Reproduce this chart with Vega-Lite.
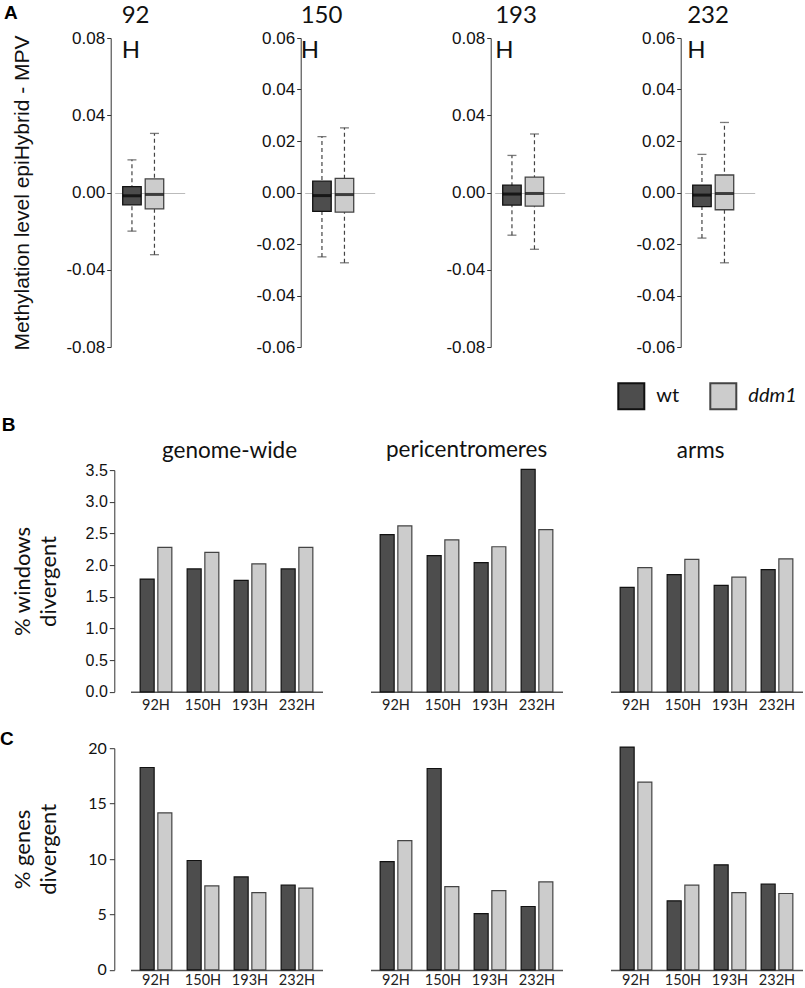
{
  "$schema": "https://vega.github.io/schema/vega-lite/v6.json",
  "autosize": {"type": "none"},
  "padding": {"left": 110.7, "top": 38, "right": 694.3, "bottom": 950},
  "background": "white",
  "datasets": {
    "box": [
      {"p": "92", "g": "wt", "lo": -0.0200, "q1": -0.0064, "med": -0.0017, "q3": 0.0030, "hi": 0.0169},
      {"p": "92", "g": "ddm1", "lo": -0.0322, "q1": -0.0085, "med": -0.0010, "q3": 0.0071, "hi": 0.0306},
      {"p": "150", "g": "wt", "lo": -0.0250, "q1": -0.0073, "med": -0.0012, "q3": 0.0044, "hi": 0.0217},
      {"p": "150", "g": "ddm1", "lo": -0.0273, "q1": -0.0076, "med": -0.0008, "q3": 0.0055, "hi": 0.0251},
      {"p": "193", "g": "wt", "lo": -0.0221, "q1": -0.0065, "med": -0.0008, "q3": 0.0038, "hi": 0.0192},
      {"p": "193", "g": "ddm1", "lo": -0.0294, "q1": -0.0071, "med": -0.0005, "q3": 0.0080, "hi": 0.0303},
      {"p": "232", "g": "wt", "lo": -0.0177, "q1": -0.0055, "med": -0.0010, "q3": 0.0029, "hi": 0.0148},
      {"p": "232", "g": "ddm1", "lo": -0.0273, "q1": -0.0067, "med": -0.0004, "q3": 0.0068, "hi": 0.0272}
    ],
    "bars": [
      {"row": "B", "region": "genome-wide", "h": "92H", "g": "wt", "v": 1.78},
      {"row": "B", "region": "genome-wide", "h": "92H", "g": "ddm1", "v": 2.28},
      {"row": "B", "region": "genome-wide", "h": "150H", "g": "wt", "v": 1.94},
      {"row": "B", "region": "genome-wide", "h": "150H", "g": "ddm1", "v": 2.20},
      {"row": "B", "region": "genome-wide", "h": "193H", "g": "wt", "v": 1.76},
      {"row": "B", "region": "genome-wide", "h": "193H", "g": "ddm1", "v": 2.02},
      {"row": "B", "region": "genome-wide", "h": "232H", "g": "wt", "v": 1.94},
      {"row": "B", "region": "genome-wide", "h": "232H", "g": "ddm1", "v": 2.28},
      {"row": "B", "region": "pericentromeres", "h": "92H", "g": "wt", "v": 2.48},
      {"row": "B", "region": "pericentromeres", "h": "92H", "g": "ddm1", "v": 2.62},
      {"row": "B", "region": "pericentromeres", "h": "150H", "g": "wt", "v": 2.15},
      {"row": "B", "region": "pericentromeres", "h": "150H", "g": "ddm1", "v": 2.40},
      {"row": "B", "region": "pericentromeres", "h": "193H", "g": "wt", "v": 2.04},
      {"row": "B", "region": "pericentromeres", "h": "193H", "g": "ddm1", "v": 2.29},
      {"row": "B", "region": "pericentromeres", "h": "232H", "g": "wt", "v": 3.51},
      {"row": "B", "region": "pericentromeres", "h": "232H", "g": "ddm1", "v": 2.56},
      {"row": "B", "region": "arms", "h": "92H", "g": "wt", "v": 1.65},
      {"row": "B", "region": "arms", "h": "92H", "g": "ddm1", "v": 1.96},
      {"row": "B", "region": "arms", "h": "150H", "g": "wt", "v": 1.85},
      {"row": "B", "region": "arms", "h": "150H", "g": "ddm1", "v": 2.09},
      {"row": "B", "region": "arms", "h": "193H", "g": "wt", "v": 1.68},
      {"row": "B", "region": "arms", "h": "193H", "g": "ddm1", "v": 1.81},
      {"row": "B", "region": "arms", "h": "232H", "g": "wt", "v": 1.93},
      {"row": "B", "region": "arms", "h": "232H", "g": "ddm1", "v": 2.10},
      {"row": "C", "region": "genome-wide", "h": "92H", "g": "wt", "v": 18.26},
      {"row": "C", "region": "genome-wide", "h": "92H", "g": "ddm1", "v": 14.17},
      {"row": "C", "region": "genome-wide", "h": "150H", "g": "wt", "v": 9.87},
      {"row": "C", "region": "genome-wide", "h": "150H", "g": "ddm1", "v": 7.58},
      {"row": "C", "region": "genome-wide", "h": "193H", "g": "wt", "v": 8.39},
      {"row": "C", "region": "genome-wide", "h": "193H", "g": "ddm1", "v": 6.98},
      {"row": "C", "region": "genome-wide", "h": "232H", "g": "wt", "v": 7.64},
      {"row": "C", "region": "genome-wide", "h": "232H", "g": "ddm1", "v": 7.37},
      {"row": "C", "region": "pericentromeres", "h": "92H", "g": "wt", "v": 9.77},
      {"row": "C", "region": "pericentromeres", "h": "92H", "g": "ddm1", "v": 11.67},
      {"row": "C", "region": "pericentromeres", "h": "150H", "g": "wt", "v": 18.17},
      {"row": "C", "region": "pericentromeres", "h": "150H", "g": "ddm1", "v": 7.52},
      {"row": "C", "region": "pericentromeres", "h": "193H", "g": "wt", "v": 5.08},
      {"row": "C", "region": "pericentromeres", "h": "193H", "g": "ddm1", "v": 7.16},
      {"row": "C", "region": "pericentromeres", "h": "232H", "g": "wt", "v": 5.72},
      {"row": "C", "region": "pericentromeres", "h": "232H", "g": "ddm1", "v": 7.94},
      {"row": "C", "region": "arms", "h": "92H", "g": "wt", "v": 20.1},
      {"row": "C", "region": "arms", "h": "92H", "g": "ddm1", "v": 16.94},
      {"row": "C", "region": "arms", "h": "150H", "g": "wt", "v": 6.23},
      {"row": "C", "region": "arms", "h": "150H", "g": "ddm1", "v": 7.64},
      {"row": "C", "region": "arms", "h": "193H", "g": "wt", "v": 9.48},
      {"row": "C", "region": "arms", "h": "193H", "g": "ddm1", "v": 6.98},
      {"row": "C", "region": "arms", "h": "232H", "g": "wt", "v": 7.73},
      {"row": "C", "region": "arms", "h": "232H", "g": "ddm1", "v": 6.89}
    ]
  },
  "spacing": 17.1,
  "resolve": {"scale": {"xOffset": "independent"}},
  "vconcat": [
    {
      "title": {"text": "A", "anchor": "start", "frame": "group", "offset": 0, "dx": -106.7, "dy": 18.2, "font": "Liberation Sans", "fontSize": 19, "fontWeight": "bold", "baseline": "top", "color": "#000000"},
      "spacing": 20,
      "bounds": "flush",
      "resolve": {"scale": {"xOffset": "independent"}},
      "hconcat": [
        {
          "width": 169.7, "height": 359.5,
          "data": {"name": "box"},
          "transform": [{"filter": "datum.p === '92'"}],
          "title": {"text": ["92", "H"], "anchor": "start", "align": "left", "frame": "group", "offset": 0, "dx": 11, "dy": 34.3, "font": "Lato", "fontSize": 24, "fontWeight": "normal", "lineHeight": 35, "baseline": "top", "color": "#111111"},
          "encoding": {"x": {"field": "g", "type": "nominal", "scale": {"domain": ["wt", "ddm1"], "range": [4, 74], "paddingInner": 0.178, "paddingOuter": 0.644, "align": 0.276}, "axis": null}},
          "layer": [
            {"mark": {"type": "rule", "color": "#444444", "strokeWidth": 1.2, "strokeDash": [4, 3]}, "encoding": {
              "y": {"field": "lo", "type": "quantitative", "scale": {"domain": [-0.08, 0.08], "range": [309, 0], "nice": false, "zero": false},
                "axis": {"values": [-0.08, -0.04, 0, 0.04, 0.08], "labelExpr": "datum.value < 0 ? '-' + format(-datum.value, '.2f') : format(datum.value, '.2f')", "title": "Methylation level epiHybrid - MPV", "titleFont": "Liberation Sans", "titleFontSize": 21, "titleFontWeight": "normal", "titleColor": "#111111", "titleX": -78.7, "titleBaseline": "bottom", "grid": true, "gridColor": "#bbbbbb", "gridWidth": 1, "gridOpacity": {"condition": {"test": "datum.value === 0", "value": 1}, "value": 0}, "labelFont": "Liberation Sans", "labelFontSize": 17, "labelColor": "#111111", "labelPadding": 2, "tickSize": 4, "tickColor": "#333333", "domainColor": "#333333", "domainWidth": 1}},
              "y2": {"field": "hi"}}},
            {"mark": {"type": "tick", "color": "#444444", "size": 9, "thickness": 1.3}, "encoding": {"y": {"field": "lo", "type": "quantitative", "scale": {"domain": [-0.08, 0.08], "range": [309, 0], "nice": false, "zero": false}}}},
            {"mark": {"type": "tick", "color": "#444444", "size": 9, "thickness": 1.3}, "encoding": {"y": {"field": "hi", "type": "quantitative", "scale": {"domain": [-0.08, 0.08], "range": [309, 0], "nice": false, "zero": false}}}},
            {"mark": {"type": "bar", "strokeWidth": 1.3}, "encoding": {
              "y": {"field": "q1", "type": "quantitative", "scale": {"domain": [-0.08, 0.08], "range": [309, 0], "nice": false, "zero": false}},
              "y2": {"field": "q3"},
              "color": {"field": "g", "type": "nominal", "scale": {"domain": ["wt", "ddm1"], "range": ["#4d4d4d", "#cccccc"]},
                "legend": {"title": null, "orient": "none", "legendX": 506.6, "legendY": 344.3, "direction": "horizontal", "symbolType": "square", "symbolSize": 676, "symbolStrokeColor": "#111111", "symbolStrokeWidth": 2, "labelFont": "Lato", "labelFontSize": 20, "labelColor": "#111111", "labelOffset": 11, "columnPadding": 27, "labelFontStyle": {"expr": "datum.value === 'ddm1' ? 'italic' : 'normal'"}}},
              "stroke": {"field": "g", "type": "nominal", "scale": {"domain": ["wt", "ddm1"], "range": ["#111111", "#444444"]}, "legend": null}
            }},
            {"mark": {"type": "tick", "color": "#000000", "size": 18.5, "thickness": 3}, "encoding": {"y": {"field": "med", "type": "quantitative", "scale": {"domain": [-0.08, 0.08], "range": [309, 0], "nice": false, "zero": false}}}}
          ]
        },
        {
          "width": 169.7, "height": 359.5,
          "data": {"name": "box"},
          "transform": [{"filter": "datum.p === '150'"}],
          "title": {"text": ["150", "H"], "anchor": "start", "align": "left", "frame": "group", "offset": 0, "dx": 0, "dy": 34.3, "font": "Lato", "fontSize": 24, "fontWeight": "normal", "lineHeight": 35, "baseline": "top", "color": "#111111"},
          "encoding": {"x": {"field": "g", "type": "nominal", "scale": {"domain": ["wt", "ddm1"], "range": [4, 74], "paddingInner": 0.178, "paddingOuter": 0.644, "align": 0.276}, "axis": null}},
          "layer": [
            {"mark": {"type": "rule", "color": "#444444", "strokeWidth": 1.2, "strokeDash": [4, 3]}, "encoding": {
              "y": {"field": "lo", "type": "quantitative", "scale": {"domain": [-0.06, 0.06], "range": [309, 0], "nice": false, "zero": false},
                "axis": {"values": [-0.06, -0.04, -0.02, 0, 0.02, 0.04, 0.06], "labelExpr": "datum.value < 0 ? '-' + format(-datum.value, '.2f') : format(datum.value, '.2f')", "title": null, "grid": true, "gridColor": "#bbbbbb", "gridWidth": 1, "gridOpacity": {"condition": {"test": "datum.value === 0", "value": 1}, "value": 0}, "labelFont": "Liberation Sans", "labelFontSize": 17, "labelColor": "#111111", "labelPadding": 2, "tickSize": 4, "tickColor": "#333333", "domainColor": "#333333", "domainWidth": 1}},
              "y2": {"field": "hi"}}},
            {"mark": {"type": "tick", "color": "#444444", "size": 9, "thickness": 1.3}, "encoding": {"y": {"field": "lo", "type": "quantitative", "scale": {"domain": [-0.06, 0.06], "range": [309, 0], "nice": false, "zero": false}}}},
            {"mark": {"type": "tick", "color": "#444444", "size": 9, "thickness": 1.3}, "encoding": {"y": {"field": "hi", "type": "quantitative", "scale": {"domain": [-0.06, 0.06], "range": [309, 0], "nice": false, "zero": false}}}},
            {"mark": {"type": "bar", "strokeWidth": 1.3}, "encoding": {
              "y": {"field": "q1", "type": "quantitative", "scale": {"domain": [-0.06, 0.06], "range": [309, 0], "nice": false, "zero": false}},
              "y2": {"field": "q3"},
              "color": {"field": "g", "type": "nominal", "scale": {"domain": ["wt", "ddm1"], "range": ["#4d4d4d", "#cccccc"]}, "legend": null},
              "stroke": {"field": "g", "type": "nominal", "scale": {"domain": ["wt", "ddm1"], "range": ["#111111", "#444444"]}, "legend": null}
            }},
            {"mark": {"type": "tick", "color": "#000000", "size": 18.5, "thickness": 3}, "encoding": {"y": {"field": "med", "type": "quantitative", "scale": {"domain": [-0.06, 0.06], "range": [309, 0], "nice": false, "zero": false}}}}
          ]
        },
        {
          "width": 169.7, "height": 359.5,
          "data": {"name": "box"},
          "transform": [{"filter": "datum.p === '193'"}],
          "title": {"text": ["193", "H"], "anchor": "start", "align": "left", "frame": "group", "offset": 0, "dx": 4.5, "dy": 34.3, "font": "Lato", "fontSize": 24, "fontWeight": "normal", "lineHeight": 35, "baseline": "top", "color": "#111111"},
          "encoding": {"x": {"field": "g", "type": "nominal", "scale": {"domain": ["wt", "ddm1"], "range": [4, 74], "paddingInner": 0.178, "paddingOuter": 0.644, "align": 0.276}, "axis": null}},
          "layer": [
            {"mark": {"type": "rule", "color": "#444444", "strokeWidth": 1.2, "strokeDash": [4, 3]}, "encoding": {
              "y": {"field": "lo", "type": "quantitative", "scale": {"domain": [-0.08, 0.08], "range": [309, 0], "nice": false, "zero": false},
                "axis": {"values": [-0.08, -0.04, 0, 0.04, 0.08], "labelExpr": "datum.value < 0 ? '-' + format(-datum.value, '.2f') : format(datum.value, '.2f')", "title": null, "grid": true, "gridColor": "#bbbbbb", "gridWidth": 1, "gridOpacity": {"condition": {"test": "datum.value === 0", "value": 1}, "value": 0}, "labelFont": "Liberation Sans", "labelFontSize": 17, "labelColor": "#111111", "labelPadding": 2, "tickSize": 4, "tickColor": "#333333", "domainColor": "#333333", "domainWidth": 1}},
              "y2": {"field": "hi"}}},
            {"mark": {"type": "tick", "color": "#444444", "size": 9, "thickness": 1.3}, "encoding": {"y": {"field": "lo", "type": "quantitative", "scale": {"domain": [-0.08, 0.08], "range": [309, 0], "nice": false, "zero": false}}}},
            {"mark": {"type": "tick", "color": "#444444", "size": 9, "thickness": 1.3}, "encoding": {"y": {"field": "hi", "type": "quantitative", "scale": {"domain": [-0.08, 0.08], "range": [309, 0], "nice": false, "zero": false}}}},
            {"mark": {"type": "bar", "strokeWidth": 1.3}, "encoding": {
              "y": {"field": "q1", "type": "quantitative", "scale": {"domain": [-0.08, 0.08], "range": [309, 0], "nice": false, "zero": false}},
              "y2": {"field": "q3"},
              "color": {"field": "g", "type": "nominal", "scale": {"domain": ["wt", "ddm1"], "range": ["#4d4d4d", "#cccccc"]}, "legend": null},
              "stroke": {"field": "g", "type": "nominal", "scale": {"domain": ["wt", "ddm1"], "range": ["#111111", "#444444"]}, "legend": null}
            }},
            {"mark": {"type": "tick", "color": "#000000", "size": 18.5, "thickness": 3}, "encoding": {"y": {"field": "med", "type": "quantitative", "scale": {"domain": [-0.08, 0.08], "range": [309, 0], "nice": false, "zero": false}}}}
          ]
        },
        {
          "width": 169.7, "height": 359.5,
          "data": {"name": "box"},
          "transform": [{"filter": "datum.p === '232'"}],
          "title": {"text": ["232", "H"], "anchor": "start", "align": "left", "frame": "group", "offset": 0, "dx": 6.5, "dy": 34.3, "font": "Lato", "fontSize": 24, "fontWeight": "normal", "lineHeight": 35, "baseline": "top", "color": "#111111"},
          "encoding": {"x": {"field": "g", "type": "nominal", "scale": {"domain": ["wt", "ddm1"], "range": [4, 74], "paddingInner": 0.178, "paddingOuter": 0.644, "align": 0.276}, "axis": null}},
          "layer": [
            {"mark": {"type": "rule", "color": "#444444", "strokeWidth": 1.2, "strokeDash": [4, 3]}, "encoding": {
              "y": {"field": "lo", "type": "quantitative", "scale": {"domain": [-0.06, 0.06], "range": [309, 0], "nice": false, "zero": false},
                "axis": {"values": [-0.06, -0.04, -0.02, 0, 0.02, 0.04, 0.06], "labelExpr": "datum.value < 0 ? '-' + format(-datum.value, '.2f') : format(datum.value, '.2f')", "title": null, "grid": true, "gridColor": "#bbbbbb", "gridWidth": 1, "gridOpacity": {"condition": {"test": "datum.value === 0", "value": 1}, "value": 0}, "labelFont": "Liberation Sans", "labelFontSize": 17, "labelColor": "#111111", "labelPadding": 2, "tickSize": 4, "tickColor": "#333333", "domainColor": "#333333", "domainWidth": 1}},
              "y2": {"field": "hi"}}},
            {"mark": {"type": "tick", "color": "#444444", "size": 9, "thickness": 1.3}, "encoding": {"y": {"field": "lo", "type": "quantitative", "scale": {"domain": [-0.06, 0.06], "range": [309, 0], "nice": false, "zero": false}}}},
            {"mark": {"type": "tick", "color": "#444444", "size": 9, "thickness": 1.3}, "encoding": {"y": {"field": "hi", "type": "quantitative", "scale": {"domain": [-0.06, 0.06], "range": [309, 0], "nice": false, "zero": false}}}},
            {"mark": {"type": "bar", "strokeWidth": 1.3}, "encoding": {
              "y": {"field": "q1", "type": "quantitative", "scale": {"domain": [-0.06, 0.06], "range": [309, 0], "nice": false, "zero": false}},
              "y2": {"field": "q3"},
              "color": {"field": "g", "type": "nominal", "scale": {"domain": ["wt", "ddm1"], "range": ["#4d4d4d", "#cccccc"]}, "legend": null},
              "stroke": {"field": "g", "type": "nominal", "scale": {"domain": ["wt", "ddm1"], "range": ["#111111", "#444444"]}, "legend": null}
            }},
            {"mark": {"type": "tick", "color": "#000000", "size": 18.5, "thickness": 3}, "encoding": {"y": {"field": "med", "type": "quantitative", "scale": {"domain": [-0.06, 0.06], "range": [309, 0], "nice": false, "zero": false}}}}
          ]
        }
      ]
    },
    {
      "title": {"text": "B", "anchor": "start", "frame": "group", "offset": 0, "dx": -109, "dy": -3.9, "font": "Liberation Sans", "fontSize": 19, "fontWeight": "bold", "baseline": "top", "color": "#000000"},
      "spacing": 20,
      "bounds": "flush",
      "resolve": {"scale": {"xOffset": "independent"}},
      "hconcat": [
        {
          "width": 219.75, "height": 221.7,
          "data": {"name": "bars"},
          "transform": [{"filter": "datum.row === 'B' && datum.region === 'genome-wide'"}],
          "title": {"text": "genome-wide", "anchor": "middle", "frame": "group", "offset": 0, "dx": 9, "dy": 0, "font": "Lato", "fontSize": 22.5, "fontWeight": "normal", "baseline": "top", "color": "#111111"},
          "mark": {"type": "bar", "strokeWidth": 1.2},
          "encoding": {
            "x": {"field": "h", "type": "nominal", "scale": {"domain": ["92H", "150H", "193H", "232H"], "range": [19.8, 211.8], "paddingInner": 0.326, "paddingOuter": 0.2055}, "axis": {"title": null, "ticks": false, "tickSize": 0, "labelPadding": 7, "labelAngle": 0, "labelFont": "Lato", "labelFontSize": 14.5, "labelColor": "#222222", "domainColor": "#555555", "domainWidth": 1.5}},
            "xOffset": {"field": "g", "type": "nominal", "scale": {"domain": ["wt", "ddm1"], "paddingInner": 0.209, "paddingOuter": 0}},
            "y": {"field": "v", "type": "quantitative", "scale": {"domain": [0, 3.5], "nice": false}, "axis": {"values": [0, 0.5, 1, 1.5, 2, 2.5, 3, 3.5], "format": ".1f", "offset": -3.6, "tickSize": 5, "tickColor": "#333333", "domainColor": "#333333", "labelFont": "Liberation Sans", "labelFontSize": 16, "labelColor": "#111111", "labelPadding": 2, "title": ["% windows", "divergent"], "titleFont": "Lato", "titleFontSize": 22, "titleFontWeight": "normal", "titleColor": "#111111", "titleLineHeight": 26, "titleX": -79.8, "titleY": 110.85, "titleBaseline": "bottom"}},
            "color": {"field": "g", "type": "nominal", "scale": {"domain": ["wt", "ddm1"], "range": ["#4d4d4d", "#cccccc"]}, "legend": null},
            "stroke": {"field": "g", "type": "nominal", "scale": {"domain": ["wt", "ddm1"], "range": ["#111111", "#444444"]}, "legend": null}
          }
        },
        {
          "width": 219.75, "height": 221.7,
          "data": {"name": "bars"},
          "transform": [{"filter": "datum.row === 'B' && datum.region === 'pericentromeres'"}],
          "title": {"text": "pericentromeres", "anchor": "middle", "frame": "group", "offset": 0, "dx": 6, "dy": -7.4, "font": "Lato", "fontSize": 22.5, "fontWeight": "normal", "baseline": "top", "color": "#111111"},
          "mark": {"type": "bar", "strokeWidth": 1.2},
          "encoding": {
            "x": {"field": "h", "type": "nominal", "scale": {"domain": ["92H", "150H", "193H", "232H"], "range": [19.8, 211.8], "paddingInner": 0.326, "paddingOuter": 0.2055}, "axis": {"title": null, "ticks": false, "tickSize": 0, "labelPadding": 7, "labelAngle": 0, "labelFont": "Lato", "labelFontSize": 14.5, "labelColor": "#222222", "domainColor": "#555555", "domainWidth": 1.5}},
            "xOffset": {"field": "g", "type": "nominal", "scale": {"domain": ["wt", "ddm1"], "paddingInner": 0.209, "paddingOuter": 0}},
            "y": {"field": "v", "type": "quantitative", "scale": {"domain": [0, 3.5], "nice": false}, "axis": null},
            "color": {"field": "g", "type": "nominal", "scale": {"domain": ["wt", "ddm1"], "range": ["#4d4d4d", "#cccccc"]}, "legend": null},
            "stroke": {"field": "g", "type": "nominal", "scale": {"domain": ["wt", "ddm1"], "range": ["#111111", "#444444"]}, "legend": null}
          }
        },
        {
          "width": 219.75, "height": 221.7,
          "data": {"name": "bars"},
          "transform": [{"filter": "datum.row === 'B' && datum.region === 'arms'"}],
          "title": {"text": "arms", "anchor": "middle", "frame": "group", "offset": 0, "dx": 0, "dy": -8, "font": "Lato", "fontSize": 22.5, "fontWeight": "normal", "baseline": "top", "color": "#111111"},
          "mark": {"type": "bar", "strokeWidth": 1.2},
          "encoding": {
            "x": {"field": "h", "type": "nominal", "scale": {"domain": ["92H", "150H", "193H", "232H"], "range": [19.8, 211.8], "paddingInner": 0.326, "paddingOuter": 0.2055}, "axis": {"title": null, "ticks": false, "tickSize": 0, "labelPadding": 7, "labelAngle": 0, "labelFont": "Lato", "labelFontSize": 14.5, "labelColor": "#222222", "domainColor": "#555555", "domainWidth": 1.5}},
            "xOffset": {"field": "g", "type": "nominal", "scale": {"domain": ["wt", "ddm1"], "paddingInner": 0.209, "paddingOuter": 0}},
            "y": {"field": "v", "type": "quantitative", "scale": {"domain": [0, 3.5], "nice": false}, "axis": null},
            "color": {"field": "g", "type": "nominal", "scale": {"domain": ["wt", "ddm1"], "range": ["#4d4d4d", "#cccccc"]}, "legend": null},
            "stroke": {"field": "g", "type": "nominal", "scale": {"domain": ["wt", "ddm1"], "range": ["#111111", "#444444"]}, "legend": null}
          }
        }
      ]
    },
    {
      "title": {"text": "C", "anchor": "start", "frame": "group", "offset": 0, "dx": -110.7, "dy": 9, "font": "Liberation Sans", "fontSize": 19, "fontWeight": "bold", "baseline": "top", "color": "#000000"},
      "spacing": 20,
      "bounds": "flush",
      "resolve": {"scale": {"xOffset": "independent"}},
      "hconcat": [
        {
          "width": 219.75, "height": 221.7,
          "data": {"name": "bars"},
          "transform": [{"filter": "datum.row === 'C' && datum.region === 'genome-wide'"}],
          "mark": {"type": "bar", "strokeWidth": 1.2},
          "encoding": {
            "x": {"field": "h", "type": "nominal", "scale": {"domain": ["92H", "150H", "193H", "232H"], "range": [19.8, 211.8], "paddingInner": 0.326, "paddingOuter": 0.2055}, "axis": {"title": null, "ticks": false, "tickSize": 0, "labelPadding": 4, "labelAngle": 0, "labelFont": "Lato", "labelFontSize": 14.5, "labelColor": "#222222", "domainColor": "#555555", "domainWidth": 1.5}},
            "xOffset": {"field": "g", "type": "nominal", "scale": {"domain": ["wt", "ddm1"], "paddingInner": 0.209, "paddingOuter": 0}},
            "y": {"field": "v", "type": "quantitative", "scale": {"domain": [0, 20], "nice": false}, "axis": {"values": [0, 5, 10, 15, 20], "offset": -3.6, "tickSize": 5, "tickColor": "#333333", "domainColor": "#333333", "labelFont": "Lato", "labelFontSize": 16, "labelColor": "#111111", "labelPadding": 3, "title": ["% genes", "divergent"], "titleFont": "Lato", "titleFontSize": 22, "titleFontWeight": "normal", "titleColor": "#111111", "titleLineHeight": 26, "titleX": -79.8, "titleY": 100.7, "titleBaseline": "bottom"}},
            "color": {"field": "g", "type": "nominal", "scale": {"domain": ["wt", "ddm1"], "range": ["#4d4d4d", "#cccccc"]}, "legend": null},
            "stroke": {"field": "g", "type": "nominal", "scale": {"domain": ["wt", "ddm1"], "range": ["#111111", "#444444"]}, "legend": null}
          }
        },
        {
          "width": 219.75, "height": 221.7,
          "data": {"name": "bars"},
          "transform": [{"filter": "datum.row === 'C' && datum.region === 'pericentromeres'"}],
          "mark": {"type": "bar", "strokeWidth": 1.2},
          "encoding": {
            "x": {"field": "h", "type": "nominal", "scale": {"domain": ["92H", "150H", "193H", "232H"], "range": [19.8, 211.8], "paddingInner": 0.326, "paddingOuter": 0.2055}, "axis": {"title": null, "ticks": false, "tickSize": 0, "labelPadding": 4, "labelAngle": 0, "labelFont": "Lato", "labelFontSize": 14.5, "labelColor": "#222222", "domainColor": "#555555", "domainWidth": 1.5}},
            "xOffset": {"field": "g", "type": "nominal", "scale": {"domain": ["wt", "ddm1"], "paddingInner": 0.209, "paddingOuter": 0}},
            "y": {"field": "v", "type": "quantitative", "scale": {"domain": [0, 20], "nice": false}, "axis": null},
            "color": {"field": "g", "type": "nominal", "scale": {"domain": ["wt", "ddm1"], "range": ["#4d4d4d", "#cccccc"]}, "legend": null},
            "stroke": {"field": "g", "type": "nominal", "scale": {"domain": ["wt", "ddm1"], "range": ["#111111", "#444444"]}, "legend": null}
          }
        },
        {
          "width": 219.75, "height": 221.7,
          "data": {"name": "bars"},
          "transform": [{"filter": "datum.row === 'C' && datum.region === 'arms'"}],
          "mark": {"type": "bar", "strokeWidth": 1.2},
          "encoding": {
            "x": {"field": "h", "type": "nominal", "scale": {"domain": ["92H", "150H", "193H", "232H"], "range": [19.8, 211.8], "paddingInner": 0.326, "paddingOuter": 0.2055}, "axis": {"title": null, "ticks": false, "tickSize": 0, "labelPadding": 4, "labelAngle": 0, "labelFont": "Lato", "labelFontSize": 14.5, "labelColor": "#222222", "domainColor": "#555555", "domainWidth": 1.5}},
            "xOffset": {"field": "g", "type": "nominal", "scale": {"domain": ["wt", "ddm1"], "paddingInner": 0.209, "paddingOuter": 0}},
            "y": {"field": "v", "type": "quantitative", "scale": {"domain": [0, 20], "nice": false}, "axis": null},
            "color": {"field": "g", "type": "nominal", "scale": {"domain": ["wt", "ddm1"], "range": ["#4d4d4d", "#cccccc"]}, "legend": null},
            "stroke": {"field": "g", "type": "nominal", "scale": {"domain": ["wt", "ddm1"], "range": ["#111111", "#444444"]}, "legend": null}
          }
        }
      ]
    }
  ],
  "config": {
    "view": {"stroke": null},
    "axis": {"grid": false, "labelFlush": false, "labelOverlap": false},
    "legend": {"padding": 0}
  }
}
